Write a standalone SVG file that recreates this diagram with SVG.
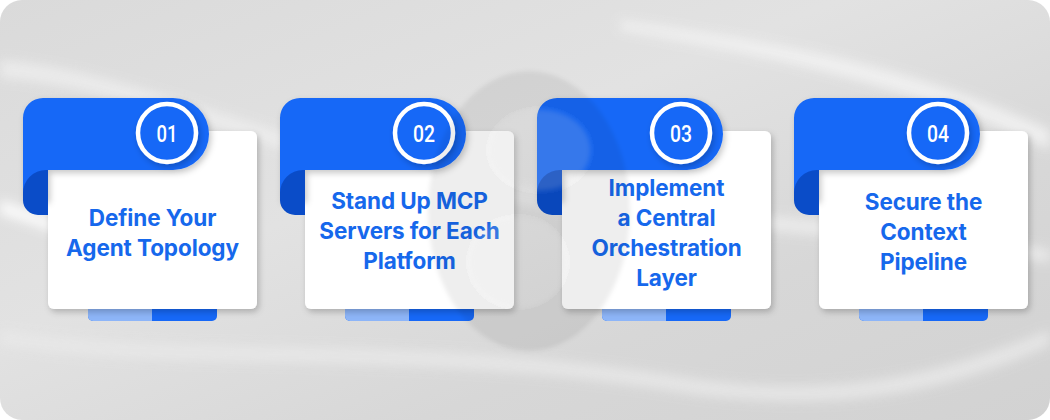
<svg xmlns="http://www.w3.org/2000/svg" width="1050" height="420" viewBox="0 0 1050 420">
<defs>
<linearGradient id="bg" x1="0" y1="0" x2="1" y2="1">
<stop offset="0" stop-color="#dadada"/>
<stop offset="0.4" stop-color="#e2e2e2"/>
<stop offset="0.7" stop-color="#d7d7d7"/>
<stop offset="1" stop-color="#d2d2d2"/>
</linearGradient>
<filter id="sh" x="-10%" y="-10%" width="125%" height="130%">
<feDropShadow dx="2" dy="3" stdDeviation="3" flood-color="#000" flood-opacity="0.22"/>
</filter>
<filter id="blur"><feGaussianBlur stdDeviation="6"/></filter>
<filter id="wblur"><feGaussianBlur stdDeviation="2"/></filter>
<style>
.tab{fill:#1668F7}
.curl{fill:#0A4CC8}
.card{fill:#ffffff}
.lt{fill:#8DB5F8}
.dk{fill:#1668F7}
.ring{fill:#1668F7;stroke:#ffffff;stroke-width:4.5}
.num{font-family:Roboto,"Liberation Sans",sans-serif;font-size:23px;font-weight:500;fill:#ffffff;text-anchor:middle}
.lbl{font-family:Inter,"Open Sans","Liberation Sans",sans-serif;font-size:22.5px;font-weight:700;fill:#1668EC;text-anchor:middle;letter-spacing:-0.1px}
</style>
</defs>
<rect x="0" y="0" width="1050" height="420" fill="#ffffff"/>
<g id="background">
<rect x="0" y="0" width="1050" height="420" rx="22" fill="url(#bg)"/>
<g filter="url(#blur)" opacity="0.9">
<path d="M0,60 C120,70 250,130 420,170 C600,210 800,210 1050,250 L1050,262 C800,225 600,225 420,186 C250,148 120,85 0,78 Z" fill="#ededed"/>
<path d="M0,200 C60,220 120,250 200,280 L200,286 C120,258 60,232 0,214 Z" fill="#ffffff"/>
<path d="M620,20 C760,40 900,60 1050,130 L1050,150 C900,80 760,55 620,30 Z" fill="#f2f2f2"/>
<path d="M0,330 C200,360 400,330 700,380 C850,400 950,370 1050,330 L1050,345 C950,390 850,412 700,395 C400,345 200,376 0,345 Z" fill="#e8e8e8"/>
</g>
</g>
<g id="connectors"></g>
<g id="step1">
<rect x="88" y="300" width="129" height="21" rx="5" class="dk"/>
<path class="lt" d="M152,300 V321 H93 A5,5 0 0 1 88,316 V300 Z"/>
<rect x="48" y="131" width="209" height="178" rx="6" class="card" filter="url(#sh)"/>
<path class="tab" filter="url(#sh)" d="M43,98 H173 A36,36 0 0 1 173,170 H48 V200 H23 V118 A20,20 0 0 1 43,98 Z"/>
<path class="curl" d="M48,170 V215 H38 A15,15 0 0 1 23,200 V193 A23,23 0 0 1 46,170 Z"/>
<circle cx="167" cy="133" r="29" class="ring" filter="url(#sh)"/>
<text class="num" x="167" y="141.5" textLength="21" lengthAdjust="spacingAndGlyphs">01</text>
<text class="lbl" x="152.5" y="226">Define Your</text>
<text class="lbl" x="152.5" y="256">Agent Topology</text>
</g>
<g id="step2" transform="translate(257,0)">
<rect x="88" y="300" width="129" height="21" rx="5" class="dk"/>
<path class="lt" d="M152,300 V321 H93 A5,5 0 0 1 88,316 V300 Z"/>
<rect x="48" y="131" width="209" height="178" rx="6" class="card" filter="url(#sh)"/>
<path class="tab" filter="url(#sh)" d="M43,98 H173 A36,36 0 0 1 173,170 H48 V200 H23 V118 A20,20 0 0 1 43,98 Z"/>
<path class="curl" d="M48,170 V215 H38 A15,15 0 0 1 23,200 V193 A23,23 0 0 1 46,170 Z"/>
<circle cx="167" cy="133" r="29" class="ring" filter="url(#sh)"/>
<text class="num" x="167" y="141.5" textLength="22" lengthAdjust="spacingAndGlyphs">02</text>
<text class="lbl" x="152.5" y="209">Stand Up MCP</text>
<text class="lbl" x="152.5" y="239">Servers for Each</text>
<text class="lbl" x="152.5" y="269">Platform</text>
</g>
<g id="step3" transform="translate(514,0)">
<rect x="88" y="300" width="129" height="21" rx="5" class="dk"/>
<path class="lt" d="M152,300 V321 H93 A5,5 0 0 1 88,316 V300 Z"/>
<rect x="48" y="131" width="209" height="178" rx="6" class="card" filter="url(#sh)"/>
<path class="tab" filter="url(#sh)" d="M43,98 H173 A36,36 0 0 1 173,170 H48 V200 H23 V118 A20,20 0 0 1 43,98 Z"/>
<path class="curl" d="M48,170 V215 H38 A15,15 0 0 1 23,200 V193 A23,23 0 0 1 46,170 Z"/>
<circle cx="167" cy="133" r="29" class="ring" filter="url(#sh)"/>
<text class="num" x="167" y="141.5" textLength="22" lengthAdjust="spacingAndGlyphs">03</text>
<text class="lbl" x="152.5" y="196">Implement</text>
<text class="lbl" x="152.5" y="226">a Central</text>
<text class="lbl" x="152.5" y="256">Orchestration</text>
<text class="lbl" x="152.5" y="286">Layer</text>
</g>
<g id="step4" transform="translate(771,0)">
<rect x="88" y="300" width="129" height="21" rx="5" class="dk"/>
<path class="lt" d="M152,300 V321 H93 A5,5 0 0 1 88,316 V300 Z"/>
<rect x="48" y="131" width="209" height="178" rx="6" class="card" filter="url(#sh)"/>
<path class="tab" filter="url(#sh)" d="M43,98 H173 A36,36 0 0 1 173,170 H48 V200 H23 V118 A20,20 0 0 1 43,98 Z"/>
<path class="curl" d="M48,170 V215 H38 A15,15 0 0 1 23,200 V193 A23,23 0 0 1 46,170 Z"/>
<circle cx="167" cy="133" r="29" class="ring" filter="url(#sh)"/>
<text class="num" x="167" y="141.5" textLength="22" lengthAdjust="spacingAndGlyphs">04</text>
<text class="lbl" x="152.5" y="210">Secure the</text>
<text class="lbl" x="152.5" y="240">Context</text>
<text class="lbl" x="152.5" y="270">Pipeline</text>
</g>
<g id="watermark" filter="url(#wblur)">
<ellipse cx="529" cy="211" rx="101" ry="140" fill="#000" fill-opacity="0.065"/>
<ellipse cx="540" cy="150" rx="50" ry="40" fill="#fff" fill-opacity="0.14"/>
<ellipse cx="518" cy="262" rx="48" ry="44" fill="#fff" fill-opacity="0.14"/>
</g>
</svg>
